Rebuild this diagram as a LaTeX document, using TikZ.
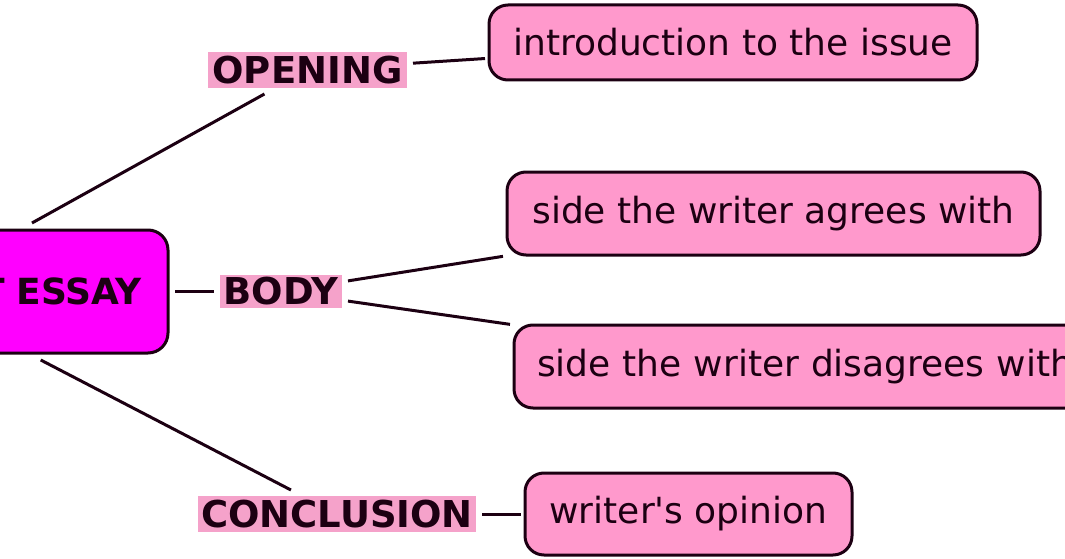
\documentclass[tikz,border=0pt]{standalone}
\usepackage{fontspec}
\setmainfont{DejaVu Sans}[Ligatures=TeXOff]
\definecolor{boxpink}{RGB}{255,153,204}
\definecolor{labpink}{RGB}{245,162,202}
\definecolor{essaymag}{RGB}{255,0,255}
\definecolor{ink}{RGB}{28,0,18}
\begin{document}
\begin{tikzpicture}[x=1pt,y=-1pt,
  every node/.style={inner sep=0pt, text=ink},
  pinkbox/.style={draw=ink, line width=3pt, fill=boxpink, rounded corners=19pt, outer sep=4pt,
    font=\fontsize{36}{40}\selectfont},
  lab/.style={fill=labpink, outer sep=6pt, font=\fontsize{37}{40}\selectfont\bfseries},
  link/.style={draw=ink, line width=3pt}]
\useasboundingbox (0,0) rectangle (1065,559);
\clip (0,0) rectangle (1065,559);
\node[draw=ink, line width=3pt, fill=essaymag, rounded corners=20pt, outer sep=7pt,
  minimum width=518pt, minimum height=123pt, text width=466pt, align=right,
  font=\fontsize{36}{40}\selectfont\bfseries] (essay) at (-91,291.5) {T ESSAY};
\node[lab, minimum width=199pt, minimum height=36pt] (open) at (307.5,70) {OPENING};
\node[lab, minimum width=122pt, minimum height=33pt] (body) at (281,291.5) {BODY};
\node[lab, minimum width=278pt, minimum height=36pt] (concl) at (337,514) {CONCLUSION};
\node[pinkbox, minimum width=488pt, minimum height=75pt] (intro) at (733,42.5) {introduction to the issue};
\node[pinkbox, minimum width=533pt, minimum height=83pt] (agree) at (773.5,213.5) {side the writer agrees with};
\node[pinkbox, minimum width=586pt, minimum height=83pt, text width=540pt, align=left] (disagree) at (807,366.5) {side the writer disagrees with};
\node[pinkbox, minimum width=327pt, minimum height=82pt] (opinion) at (688.5,514) {writer's opinion};
\draw[link] (essay) -- (open);
\draw[link] (essay) -- (body);
\draw[link] (essay) -- (concl);
\draw[link] (open) -- (intro);
\draw[link] (body) -- (agree);
\draw[link] (body) -- (disagree);
\draw[link] (concl) -- (opinion);
\end{tikzpicture}
\end{document}
